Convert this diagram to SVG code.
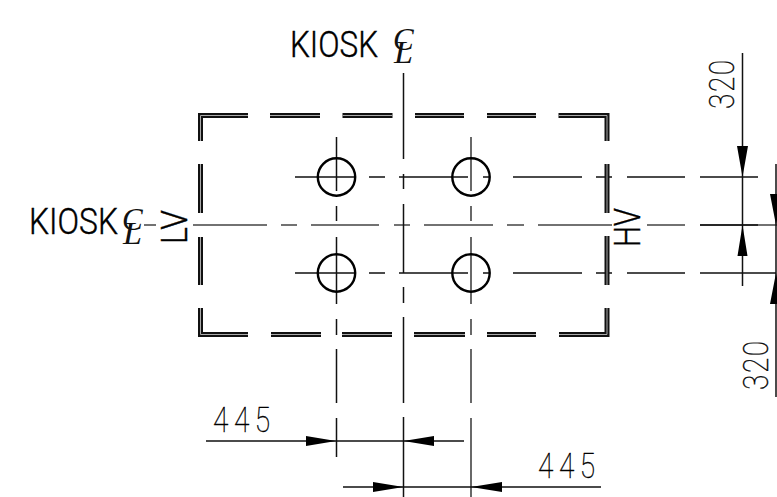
<svg xmlns="http://www.w3.org/2000/svg" width="777" height="497" viewBox="0 0 777 497">
<style>
.bg{fill:#fff}
.c{stroke:#111;stroke-width:1.5;fill:none}
.g{stroke:#444;stroke-width:1.6;fill:none}
.o{stroke:#111;stroke-width:5;fill:none;stroke-linejoin:miter}
.i{stroke:#aaa;stroke-width:1;fill:none}
.hole{stroke:#000;stroke-width:2.4;fill:none}
.a{fill:#000;stroke:none}
.t{font-family:"Roboto","Liberation Sans",sans-serif;font-size:36px;font-weight:300;fill:#000;stroke:#000;stroke-width:.4}
.d{font-family:"Roboto","Liberation Sans",sans-serif;font-size:35px;font-weight:100;fill:#000;stroke:#000;stroke-width:.4}
.cl{font-family:"Liberation Serif",serif;font-style:italic;font-size:31px;fill:#111}
</style>
<rect class="bg" width="777" height="497"/>
<g id="connectors">
<path class="c" d="M295 177H355M369 177H385M399 177H468M483 177H489M513 177H582M596 177H612M627 177H685M700 177H758"/>
<path class="c" d="M295 273H355M369 273H385M399 273H468M483 273H489M513 273H582M596 273H612M627 273H685M700 273H776"/>
<path class="g" d="M144 225H156M193 225H267M281 225H297M311 225H379M394 225H410M424 225H493M507 225H524M538 225H612M647 225H685M700 225H777"/>
<path class="c" d="M700 225H758"/>
<path class="c" d="M336.500 137V191M336.500 206V221M336.500 237V304M336.500 319V335M336.500 349V403M336.500 418V457"/>
<path class="c" d="M403.500 73V159M403.500 174V189M403.500 204V273M403.500 287V303M403.500 317V403M403.500 417V497"/>
<path class="g" d="M471 137V191M471 206V221M471 237V304M471 319V335M471 349V403M471 418V497"/>
</g>
<g id="kiosk-outline">
<path class="o" d="M200.500 141V115.500H248M270 115.500H320M342.500 115.500H392.500M415 115.500H464M487 115.500H536M558.500 115.500H607V141M607 164V213M607 236V285M607 308V334.500H559M536 334.500H487M465 334.500H414M392 334.500H342M321 334.500H271M248 334.500H200.500V308M200.500 285V237M200.500 213V164"/>
<path class="i" d="M200.500 141V115.500H248M270 115.500H320M342.500 115.500H392.500M415 115.500H464M487 115.500H536M558.500 115.500H607V141M607 164V213M607 236V285M607 308V334.500H559M536 334.500H487M465 334.500H414M392 334.500H342M321 334.500H271M248 334.500H200.500V308M200.500 285V237M200.500 213V164"/>
</g>
<g id="hole-1"><circle class="hole" cx="336.500" cy="177" r="18.700"/></g>
<g id="hole-2"><circle class="hole" cx="471" cy="177" r="18.700"/></g>
<g id="hole-3"><circle class="hole" cx="336.500" cy="273" r="18.700"/></g>
<g id="hole-4"><circle class="hole" cx="471" cy="273" r="18.700"/></g>
<g id="dimension-lines">
<path class="c" d="M742.500 53V286M776 164V397M206 441H464M343 487H601"/>
<path class="a" d="M742.500 177L737 146H748ZM742.500 225L737.500 256H747.500ZM776 225L770 194H782ZM776 273L770 304H782ZM336 441L306 436V446ZM403.500 441L434 436V446ZM403.500 487L373 482V492ZM471 487L502 482V492Z"/>
</g>
<g id="labels">
<text class="t" x="290" y="57" textLength="88" lengthAdjust="spacingAndGlyphs">KIOSK</text>
<text class="cl" x="393" y="50">C</text><text class="cl" x="394" y="63" textLength="19" lengthAdjust="spacingAndGlyphs">L</text>
<text class="t" x="29" y="234" textLength="89" lengthAdjust="spacingAndGlyphs">KIOSK</text>
<text class="cl" x="122" y="230">C</text><text class="cl" x="123" y="244" textLength="19" lengthAdjust="spacingAndGlyphs">L</text>
<text class="t" transform="translate(187,244) rotate(-90)" textLength="34" lengthAdjust="spacingAndGlyphs">LV</text>
<text class="t" transform="translate(640,247) rotate(-90)" textLength="39" lengthAdjust="spacingAndGlyphs">HV</text>
<text class="d" transform="translate(213,432) scale(.8,1)" letter-spacing="7">445</text>
<text class="d" transform="translate(538,478) scale(.8,1)" letter-spacing="7">445</text>
<text class="d" transform="translate(734,109) rotate(-90) scale(.8,1)" letter-spacing="2">320</text>
<text class="d" transform="translate(768,390) rotate(-90) scale(.8,1)" letter-spacing="2">320</text>
</g>
</svg>
